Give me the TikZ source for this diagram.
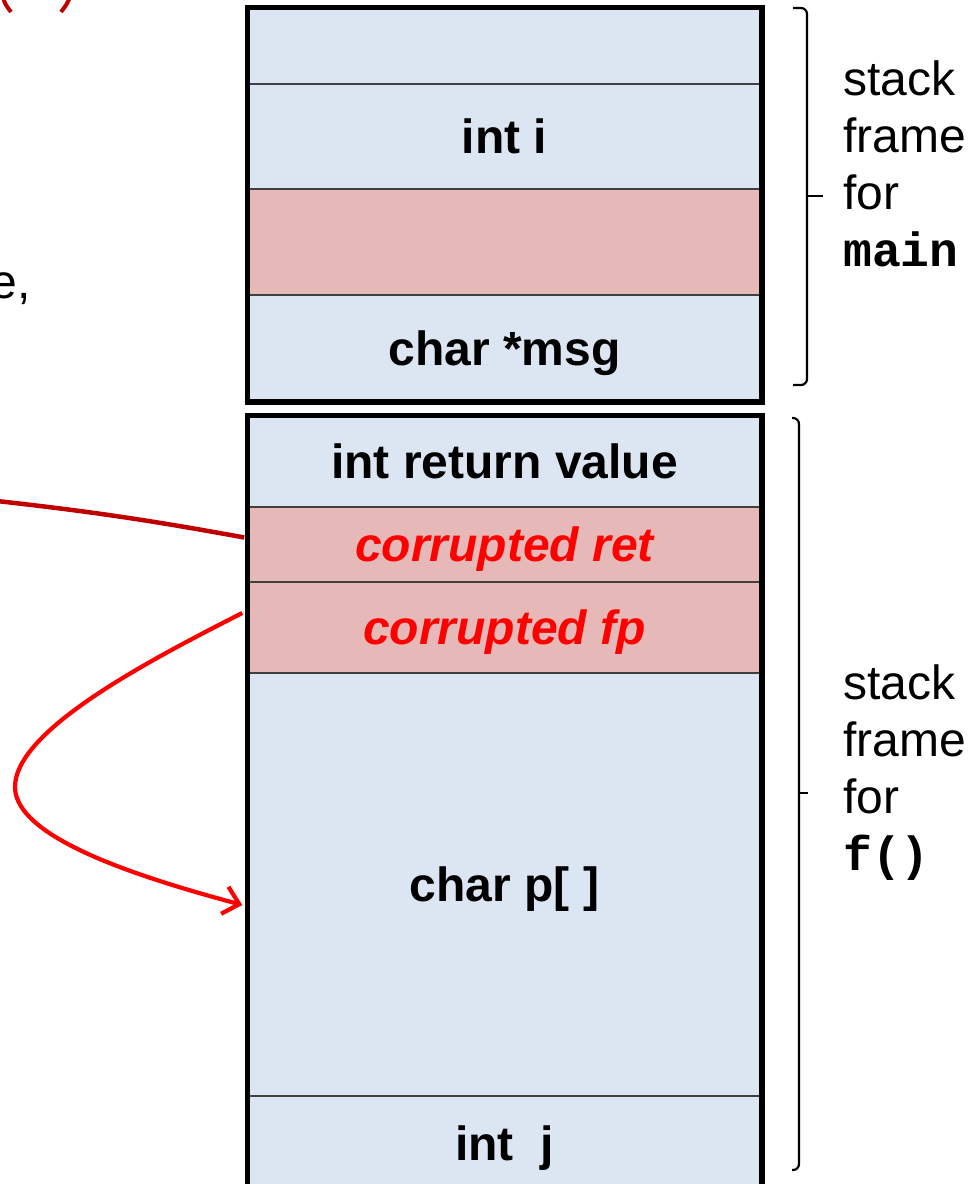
\documentclass[tikz,border=0pt]{standalone}
\usepackage{fontspec}
\setmainfont{Liberation Sans}
\setmonofont{Liberation Mono}
\usetikzlibrary{arrows.meta}
\definecolor{rowblue}{HTML}{DCE6F2}
\definecolor{rowpink}{HTML}{E6B9B8}
\definecolor{darkred}{HTML}{C00000}
\definecolor{brightred}{HTML}{FF0000}
\tikzset{
  rowbox/.style={draw=black!75, line width=1.5pt, minimum width=513pt, inner sep=0pt,
    text height=34pt, text depth=0pt, font=\fontsize{48}{57}\selectfont\bfseries},
  bluerow/.style={rowbox, fill=rowblue},
  pinkrow/.style={rowbox, fill=rowpink},
  framebox/.style={draw=black, line width=5.5pt},
  sidelabel/.style={align=left, anchor=north west, inner sep=0pt, font=\fontsize{48}{57}\selectfont},
  bracestyle/.style={draw=black, line width=2.2pt, rounded corners=6pt},
  retline/.style={draw=darkred, line width=4.5pt},
  fparrow/.style={draw=brightred, line width=4.2pt, -{Straight Barb[length=15pt,width=28pt]}},
}
\begin{document}
\begin{tikzpicture}[x=1pt,y=-1pt]
\useasboundingbox (0,0) rectangle (979,1184);
\clip (0,0) rectangle (979,1184);

% stack frame for main
\node[bluerow, minimum height=76pt]  (m1) at (504.5,46) {};
\node[bluerow, minimum height=105pt] (m2) at (504.5,136.5) {int i};
\node[pinkrow, minimum height=106pt] (m3) at (504.5,242) {};
\node[bluerow, minimum height=106pt] (m4) at (504.5,348) {char *msg};
\draw[framebox] (m1.north west) rectangle (m4.south east);

% stack frame for f()
\node[bluerow, minimum height=91pt]  (f1) at (504.5,461.5) {int return value};
\node[pinkrow, minimum height=75pt]  (f2) at (504.5,544.5) {\textcolor{brightred}{\itshape corrupted ret}};
\node[pinkrow, minimum height=91pt]  (f3) at (504.5,627.5) {\textcolor{brightred}{\itshape corrupted fp}};
\node[bluerow, minimum height=423pt] (f4) at (504.5,884.5) {char p[ ]};
\node[bluerow, minimum height=94pt]  (f5) at (504.5,1143) {int\ \ j};
\draw[framebox] (f1.north west) rectangle (f5.south east);

% braces
\coordinate (b1t) at (793,8);
\coordinate (b1b) at (793,385);
\coordinate (b1m) at (807,196);
\coordinate (b2t) at (792,418);
\coordinate (b2b) at (792,1170);
\coordinate (b2m) at (799,793);
\draw[bracestyle] (b1t) -| (b1m) |- (b1b);
\draw[bracestyle] (b1m) -- ++(16,0);
\draw[bracestyle] (b2t) -| (b2m) |- (b2b);
\draw[bracestyle] (b2m) -- ++(9,0);

\node[sidelabel] (lab1) at (843,61) {stack\\frame\\for\\\texttt{\bfseries main}};
\node[sidelabel] (lab2) at (843,665) {stack\\frame\\for\\\texttt{\bfseries f()}};

% partial text at left
\node[anchor=base east, inner sep=0pt, font=\fontsize{48}{57}\selectfont] (etext) at (31,298) {e,};

% red parenthesis fragments at top
\draw[darkred, line width=4pt] (3,-3) .. controls (5,4) .. (11,12);
\draw[darkred, line width=4pt] (70,-3) .. controls (67,4) .. (61,12);

% connectors
\coordinate (retend) at (-12,500);
\draw[retline] ([xshift=-3pt,yshift=7pt]f2.west) to[bend right=2] (retend);

\coordinate (turn) at (15,787);
\draw[fparrow] ([xshift=-5pt,yshift=14.5pt]f3.west) .. controls (150,660) and (15,730) .. (turn)
  .. controls (15,840) and (150,880) .. ([xshift=-5pt,yshift=-20.5pt]f4.west);
\end{tikzpicture}
\end{document}
